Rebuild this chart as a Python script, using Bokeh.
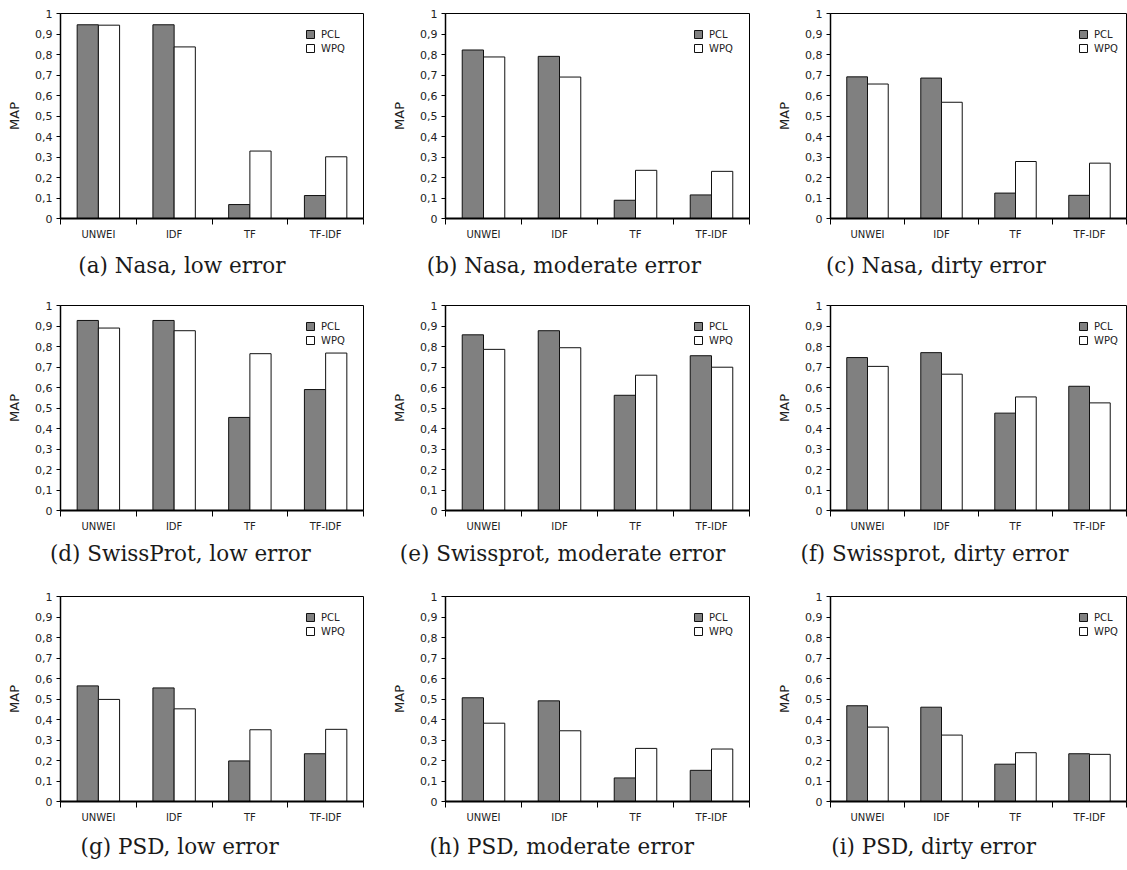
from bokeh.plotting import figure
from bokeh.models import Range1d, FixedTicker, Title
from bokeh.layouts import column, row
from bokeh.embed import file_html
from bokeh.resources import INLINE

# ---------------- data ----------------
methods = ["UNWEI", "IDF", "TF", "TF-IDF"]
series_names = ["PCL", "WPQ"]
y_ticks = [0, 0.1, 0.2, 0.3, 0.4, 0.5, 0.6, 0.7, 0.8, 0.9, 1]
y_tick_labels = ["0", "0,1", "0,2", "0,3", "0,4", "0,5", "0,6", "0,7", "0,8", "0,9", "1"]
y_axis_title = "MAP"

captions = [
    "(a) Nasa, low error", "(b) Nasa, moderate error", "(c) Nasa, dirty error",
    "(d) SwissProt, low error", "(e) Swissprot, moderate error", "(f) Swissprot, dirty error",
    "(g) PSD, low error", "(h) PSD, moderate error", "(i) PSD, dirty error",
]

pcl_a = [0.945, 0.945, 0.068, 0.112]
wpq_a = [0.943, 0.837, 0.329, 0.301]
pcl_b = [0.822, 0.791, 0.089, 0.115]
wpq_b = [0.788, 0.690, 0.235, 0.230]
pcl_c = [0.691, 0.685, 0.124, 0.113]
wpq_c = [0.656, 0.567, 0.278, 0.270]
pcl_d = [0.927, 0.927, 0.454, 0.590]
wpq_d = [0.890, 0.877, 0.765, 0.768]
pcl_e = [0.857, 0.877, 0.562, 0.755]
wpq_e = [0.786, 0.794, 0.660, 0.699]
pcl_f = [0.746, 0.770, 0.475, 0.606]
wpq_f = [0.703, 0.665, 0.554, 0.525]
pcl_g = [0.564, 0.554, 0.198, 0.233]
wpq_g = [0.498, 0.452, 0.350, 0.352]
pcl_h = [0.506, 0.491, 0.115, 0.152]
wpq_h = [0.382, 0.345, 0.259, 0.256]
pcl_i = [0.467, 0.460, 0.182, 0.233]
wpq_i = [0.363, 0.324, 0.238, 0.230]

pcl_all = [pcl_a, pcl_b, pcl_c, pcl_d, pcl_e, pcl_f, pcl_g, pcl_h, pcl_i]
wpq_all = [wpq_a, wpq_b, wpq_c, wpq_d, wpq_e, wpq_f, wpq_g, wpq_h, wpq_i]

# ---------------- layout / style ----------------
COL_W = [375, 375, 377]
COL_LEFT = [60, 70, 80]
COL_RIGHT = [12, 1, 1]
ROW_TOP = [13, 15, 16]
FRAME_H = 205
ROW_H = 290
CAP_STANDOFF = [20, 12, 16]
CAP_CX = [180, 187, 184]   # caption centre measured from figure left
LEG_X = [245, 248, 248]

SANS = "DejaVu Sans"
SERIF = "DejaVu Serif"
CAP_SIZE = 21.5
BAR_W = 0.28

# approximate DejaVu Serif advance widths (em) for centring captions
_W = {" ": 0.318, "(": 0.390, ")": 0.390, ",": 0.318, "a": 0.596, "b": 0.640,
      "c": 0.560, "d": 0.640, "e": 0.592, "f": 0.370, "g": 0.640, "h": 0.644,
      "i": 0.320, "l": 0.320, "m": 0.948, "n": 0.644, "o": 0.602, "p": 0.640,
      "r": 0.478, "s": 0.513, "t": 0.402, "w": 0.856, "y": 0.565, "N": 0.748,
      "S": 0.685, "P": 0.683, "D": 0.830}


def text_width(s, size):
    return sum(_W.get(ch, 0.6) for ch in s) * size


def make_panel(idx):
    r, c = divmod(idx, 3)
    top = ROW_TOP[r]
    p = figure(
        width=COL_W[c], height=ROW_H,
        x_range=Range1d(0, len(methods)), y_range=Range1d(0, 1),
        output_backend="svg", toolbar_location=None,
        min_border_left=COL_LEFT[c], min_border_right=COL_RIGHT[c],
        min_border_top=top, min_border_bottom=ROW_H - top - FRAME_H,
        background_fill_color="white", border_fill_color="white",
    )
    p.outline_line_color = "black"
    p.outline_line_width = 1
    p.xgrid.visible = False
    p.ygrid.visible = False

    centers = [i + 0.5 for i in range(len(methods))]
    p.vbar(x=[x - BAR_W / 2 for x in centers], top=pcl_all[idx], width=BAR_W,
           fill_color="#808080", line_color="#111111", line_width=1,
           legend_label=series_names[0])
    p.vbar(x=[x + BAR_W / 2 for x in centers], top=wpq_all[idx], width=BAR_W,
           fill_color="white", line_color="#111111", line_width=1,
           legend_label=series_names[1])

    # x axis: labels at centres, ticks at category boundaries
    xa = p.xaxis[0]
    xa.ticker = FixedTicker(ticks=centers, minor_ticks=list(range(len(methods) + 1)))
    xa.major_label_overrides = {x: m for x, m in zip(centers, methods)}
    xa.major_tick_out = 0
    xa.major_tick_in = 0
    xa.minor_tick_out = 6
    xa.minor_tick_in = 0
    xa.minor_tick_line_color = "black"
    xa.minor_tick_line_width = 1
    xa.axis_line_color = "black"
    xa.axis_line_width = 2
    xa.major_label_standoff = 4
    xa.major_label_text_font = SANS
    xa.major_label_text_font_size = "10px"
    xa.major_label_text_color = "#222222"

    # y axis
    ya = p.yaxis[0]
    ya.ticker = FixedTicker(ticks=y_ticks, minor_ticks=[])
    ya.major_label_overrides = {t: s for t, s in zip(y_ticks, y_tick_labels)}
    ya.major_tick_out = 4
    ya.major_tick_in = 0
    ya.major_tick_line_color = "black"
    ya.axis_line_color = "black"
    ya.axis_line_width = 1.5
    ya.major_label_standoff = 4
    ya.major_label_text_font = SANS
    ya.major_label_text_font_size = "11px"
    ya.major_label_text_color = "#222222"
    ya.axis_label = y_axis_title
    ya.axis_label_text_font = SANS
    ya.axis_label_text_font_size = "13px"
    ya.axis_label_text_font_style = "normal"
    ya.axis_label_text_color = "#222222"
    ya.axis_label_standoff = 10

    # legend
    lg = p.legend[0]
    lg.location = (LEG_X[c], FRAME_H - 15 - 26)
    lg.background_fill_alpha = 0
    lg.border_line_alpha = 0
    lg.padding = 0
    lg.margin = 0
    lg.spacing = 2
    lg.glyph_width = 10
    lg.glyph_height = 10
    lg.label_height = 12
    lg.label_standoff = 6
    lg.label_text_font = SANS
    lg.label_text_font_size = "10px"
    lg.label_text_color = "#222222"

    # caption below the chart
    w = text_width(captions[idx], CAP_SIZE)
    cap = Title(
        text=captions[idx], align="left", vertical_align="top",
        offset=CAP_CX[c] - w / 2 - COL_LEFT[c], standoff=CAP_STANDOFF[r],
        text_font=SERIF, text_font_size=f"{CAP_SIZE}px", text_font_style="normal",
        text_color="#1a1a1a",
    )
    p.add_layout(cap, "below")
    return p


panels = [make_panel(i) for i in range(9)]
layout = column(
    row(*panels[0:3], spacing=0),
    row(*panels[3:6], spacing=0),
    row(*panels[6:9], spacing=0),
    spacing=0,
)

open("out.html", "w").write(file_html(layout, INLINE))
